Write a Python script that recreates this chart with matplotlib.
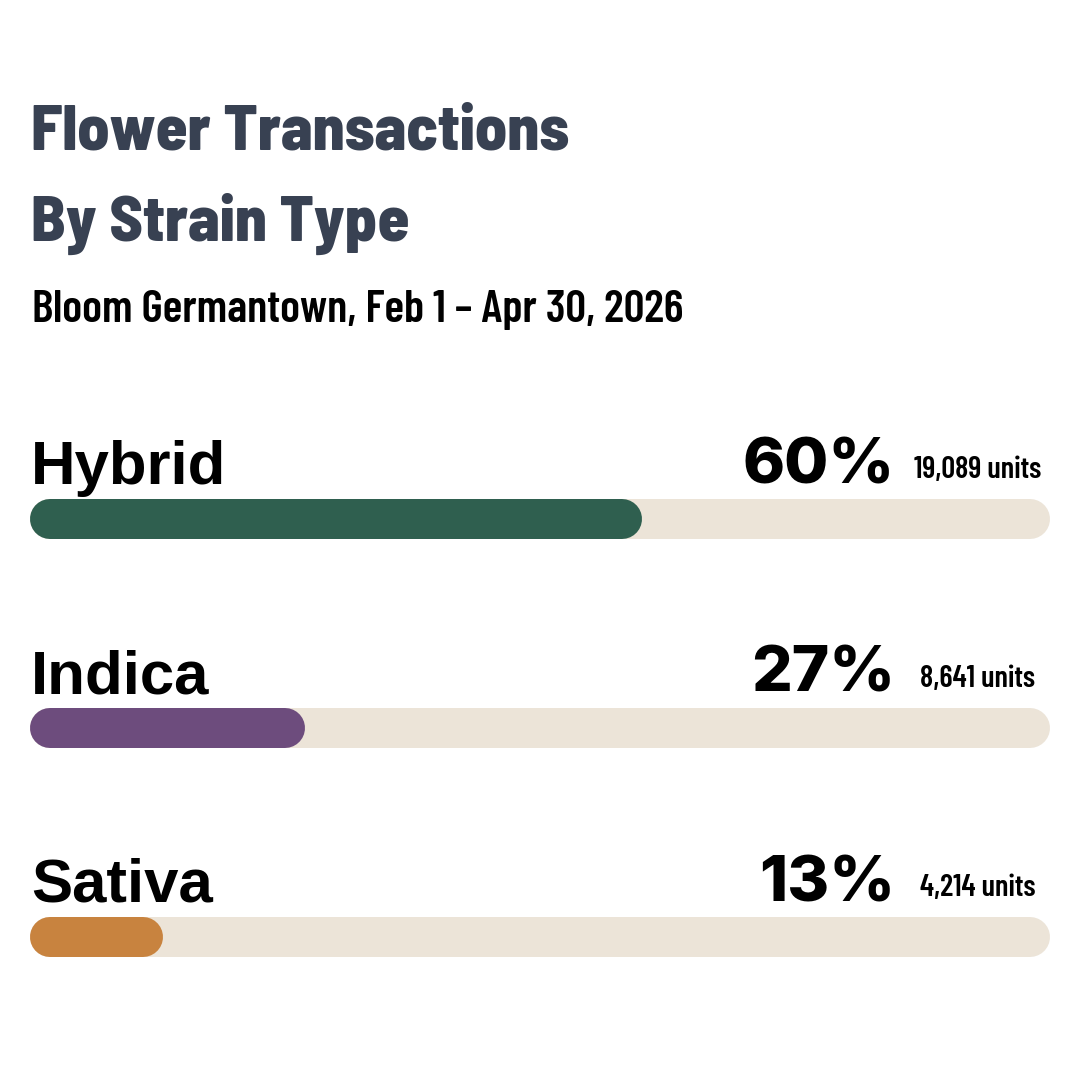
import matplotlib
matplotlib.use('Agg')
import matplotlib.pyplot as plt

# data
strains = ['Hybrid', 'Indica', 'Sativa']
shares = [60, 27, 13]
units = [19089, 8641, 4214]
bar_colors = ['#2f5f4f', '#6d4c7d', '#c8833f']
track_color = '#ece4d8'
title_color = '#384152'

title_lines = ['Flower Transactions', 'By Strain Type']
subtitle = 'Bloom Germantown, Feb 1 \u2013 Apr 30, 2026'

semi = ['Barlow Semi Condensed', 'Barlow Condensed', 'DejaVu Sans']
cond = ['Barlow Condensed', 'DejaVu Sans']
grot = ['Liberation Sans', 'DejaVu Sans']
heavy = ['Inter', 'DejaVu Sans']

W = H = 1080
fig = plt.figure(figsize=(10.8, 10.8), dpi=100)
fig.patch.set_facecolor('white')

# titles
fig.text(31 / W, 1 - 150 / H, title_lines[0], family=semi, weight=800,
         fontsize=46, color=title_color, va='baseline')
fig.text(31 / W, 1 - 241 / H, title_lines[1], family=semi, weight=800,
         fontsize=46, color=title_color, va='baseline')
fig.text(32 / W, 1 - 322 / H, subtitle, family=cond, weight=600,
         fontsize=33, color='black', va='baseline')

# bars area: three rows of 209 px, first centre at y=519
ax = fig.add_axes([30 / W, 1 - 1041.5 / H, 1020 / W, 627 / H])
ax.set_xlim(0, 100)
ax.set_ylim(2.5, -0.5)
ax.axis('off')

bar_px = 40
lw = bar_px * 72 / 100
r = 100 * (bar_px / 2) / 1020  # half bar height in data units

for i, (name, pct, n, c) in enumerate(zip(strains, shares, units, bar_colors)):
    ax.plot([r, 100 - r], [i, i], color=track_color, lw=lw,
            solid_capstyle='round', zorder=1)
    ax.plot([r, pct - r], [i, i], color=c, lw=lw,
            solid_capstyle='round', zorder=2)
    ax.text(0.1, i - 35 / 209, name, family=grot, weight='bold', fontsize=44.5,
            color='black', va='baseline', ha='left')
    ax.text(84.8, i - 36 / 209, f'{pct}%', family=heavy, weight=800,
            fontsize=46, color='black', va='baseline', ha='right')
    ax.text(92.9, i - 41 / 209, f'{n:,} units', family=cond, weight=600,
            fontsize=22, color='black', va='baseline', ha='center')

fig.savefig('out.png', dpi=100, facecolor='white')
